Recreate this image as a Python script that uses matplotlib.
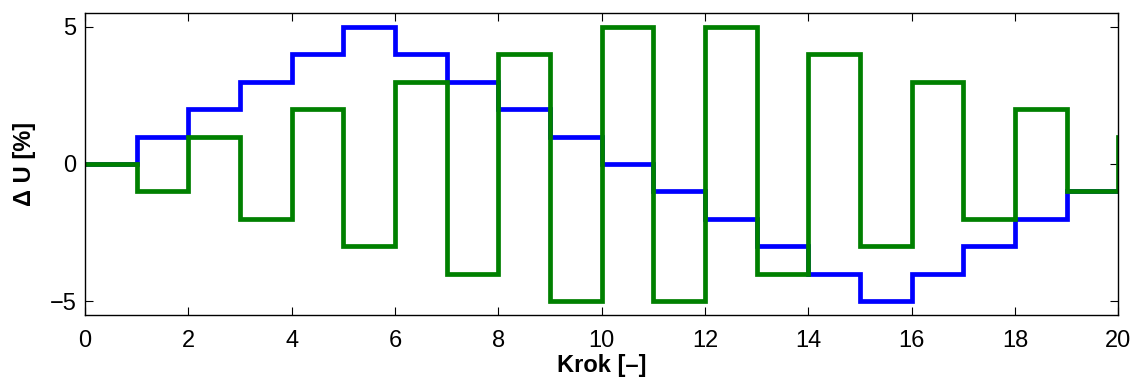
import numpy as np
import matplotlib.pyplot as plt

plt.rcParams['font.family'] = ['Liberation Sans', 'DejaVu Sans']

steps = np.arange(0, 21)
# value held from each step to the next (last value only closes the plot)
blue_u = [0, 1, 2, 3, 4, 5, 4, 3, 2, 1, 0, -1, -2, -3, -4, -5, -4, -3, -2, -1, -1]
green_u = [0, -1, 1, -2, 2, -3, 3, -4, 4, -5, 5, -5, 5, -4, 4, -3, 3, -2, 2, -1, 1]

fig = plt.figure(figsize=(11.33, 3.8), dpi=100)
ax = fig.add_axes([0.075, 0.171, 0.912, 0.795])

ax.step(steps, blue_u, where='post', color=(0, 0, 1), lw=3.4, solid_joinstyle='miter')
ax.step(steps, green_u, where='post', color=(0, 0.5, 0), lw=3.4, solid_joinstyle='miter')

ax.set_xlim(0, 20)
ax.set_ylim(-5.5, 5.5)
ax.set_xticks(np.arange(0, 21, 2))
ax.set_yticks([-5, 0, 5])
ax.set_yticklabels(['\u22125', '0', '5'])
ax.tick_params(direction='in', top=True, right=True, labelsize=17, length=6, width=0.8)
ax.tick_params(axis='x', pad=11)
ax.tick_params(axis='y', pad=6)
for s in ax.spines.values():
    s.set_linewidth(1)

ax.set_xlabel('Krok [\u2013]', fontsize=17, fontweight='bold', labelpad=1)
ax.set_ylabel('\u0394 U [%]', fontsize=17, fontweight='bold', labelpad=10)

fig.savefig('out.png', dpi=100)
